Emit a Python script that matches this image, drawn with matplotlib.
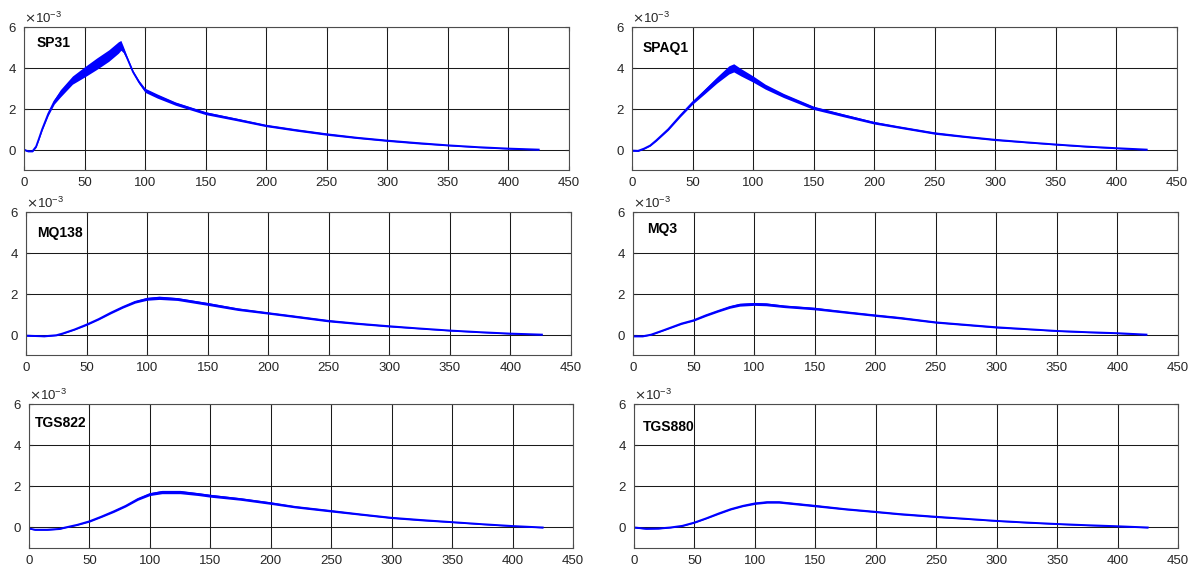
import numpy as np
import matplotlib
matplotlib.use('Agg')
import matplotlib.pyplot as plt
from matplotlib.ticker import ScalarFormatter

# sensor responses, values in units of 1e-3
names = ['SP31', 'SPAQ1', 'MQ138', 'MQ3', 'TGS822', 'TGS880']

sp31_x = [0, 3, 7, 10, 12, 15, 20, 25, 30, 40, 50, 60, 70, 78, 80, 82, 85, 90, 95, 100, 110, 125, 150, 175, 200, 225, 250, 275, 300, 325, 350, 375, 400, 425]
sp31_y = [0.0, -0.08, -0.08, 0.15, 0.48, 1.0, 1.75, 2.35, 2.75, 3.4, 3.8, 4.2, 4.6, 5.0, 5.1, 4.9, 4.5, 3.8, 3.3, 2.9, 2.62, 2.25, 1.78, 1.48, 1.17, 0.95, 0.75, 0.58, 0.44, 0.32, 0.21, 0.12, 0.05, 0.0]
sp31_s = [0.03, 0.03, 0.03, 0.04, 0.05, 0.06, 0.08, 0.12, 0.18, 0.2, 0.25, 0.28, 0.28, 0.28, 0.24, 0.15, 0.08, 0.07, 0.08, 0.1, 0.1, 0.08, 0.07, 0.06, 0.05, 0.05, 0.05, 0.04, 0.04, 0.04, 0.03, 0.03, 0.03, 0.03]

spaq1_x = [0, 5, 10, 15, 20, 30, 40, 50, 60, 70, 80, 84, 90, 100, 110, 125, 150, 175, 200, 220, 250, 275, 300, 325, 350, 375, 400, 425]
spaq1_y = [-0.05, -0.06, 0.05, 0.2, 0.45, 1.0, 1.67, 2.3, 2.85, 3.4, 3.9, 4.0, 3.78, 3.45, 3.08, 2.65, 2.04, 1.67, 1.31, 1.1, 0.8, 0.63, 0.48, 0.36, 0.25, 0.15, 0.07, 0.0]
spaq1_s = [0.03, 0.03, 0.03, 0.03, 0.04, 0.05, 0.06, 0.08, 0.12, 0.15, 0.2, 0.2, 0.18, 0.15, 0.12, 0.1, 0.08, 0.07, 0.06, 0.05, 0.05, 0.04, 0.04, 0.03, 0.03, 0.03, 0.03, 0.03]

mq138_x = [0, 15, 25, 30, 40, 50, 60, 70, 80, 90, 100, 110, 125, 150, 175, 200, 220, 250, 275, 300, 325, 350, 375, 400, 426]
mq138_y = [-0.05, -0.08, -0.03, 0.05, 0.25, 0.49, 0.76, 1.07, 1.35, 1.6, 1.75, 1.8, 1.74, 1.5, 1.24, 1.05, 0.9, 0.67, 0.53, 0.41, 0.3, 0.2, 0.12, 0.05, 0.0]
mq138_s = [0.03, 0.03, 0.03, 0.03, 0.03, 0.04, 0.04, 0.05, 0.05, 0.06, 0.07, 0.08, 0.07, 0.07, 0.06, 0.05, 0.05, 0.05, 0.04, 0.04, 0.03, 0.03, 0.03, 0.03, 0.03]

mq3_x = [0, 8, 15, 25, 40, 50, 60, 70, 80, 88, 100, 110, 125, 150, 175, 200, 220, 250, 275, 300, 325, 350, 375, 400, 424]
mq3_y = [-0.08, -0.08, 0.0, 0.21, 0.54, 0.7, 0.94, 1.15, 1.35, 1.46, 1.5, 1.48, 1.38, 1.27, 1.1, 0.94, 0.82, 0.6, 0.48, 0.36, 0.27, 0.18, 0.12, 0.07, 0.0]
mq3_s = [0.03, 0.03, 0.03, 0.03, 0.04, 0.04, 0.05, 0.05, 0.06, 0.07, 0.07, 0.07, 0.06, 0.06, 0.05, 0.05, 0.05, 0.04, 0.04, 0.04, 0.03, 0.03, 0.03, 0.03, 0.03]

tgs822_x = [0, 5, 15, 25, 30, 40, 50, 60, 70, 80, 90, 100, 110, 125, 140, 150, 175, 200, 220, 250, 275, 300, 325, 350, 375, 400, 425]
tgs822_y = [-0.05, -0.11, -0.11, -0.07, 0.0, 0.13, 0.3, 0.53, 0.78, 1.05, 1.38, 1.62, 1.72, 1.72, 1.62, 1.54, 1.38, 1.18, 1.0, 0.8, 0.63, 0.47, 0.36, 0.26, 0.16, 0.07, 0.0]
tgs822_s = [0.03, 0.03, 0.03, 0.03, 0.03, 0.03, 0.04, 0.04, 0.05, 0.05, 0.06, 0.07, 0.08, 0.08, 0.07, 0.07, 0.06, 0.06, 0.05, 0.05, 0.04, 0.04, 0.04, 0.03, 0.03, 0.03, 0.03]

tgs880_x = [0, 10, 20, 30, 40, 50, 60, 70, 80, 90, 100, 110, 120, 130, 150, 175, 200, 220, 250, 275, 300, 325, 350, 375, 400, 425]
tgs880_y = [0.0, -0.06, -0.05, 0.0, 0.08, 0.24, 0.45, 0.68, 0.89, 1.05, 1.17, 1.23, 1.23, 1.17, 1.05, 0.89, 0.76, 0.65, 0.52, 0.42, 0.32, 0.24, 0.17, 0.11, 0.06, 0.0]
tgs880_s = [0.03, 0.03, 0.03, 0.03, 0.03, 0.03, 0.03, 0.04, 0.04, 0.04, 0.05, 0.05, 0.05, 0.05, 0.05, 0.04, 0.04, 0.04, 0.04, 0.03, 0.03, 0.03, 0.03, 0.03, 0.03, 0.03]

data = [(sp31_x, sp31_y, sp31_s), (spaq1_x, spaq1_y, spaq1_s),
        (mq138_x, mq138_y, mq138_s), (mq3_x, mq3_y, mq3_s),
        (tgs822_x, tgs822_y, tgs822_s), (tgs880_x, tgs880_y, tgs880_s)]

xticks = [0, 50, 100, 150, 200, 250, 300, 350, 400, 450]
yticks = [0, 2e-3, 4e-3, 6e-3]

# axes boxes in pixels (left, top, right, bottom)
W, H = 1195, 570
boxes = [(24, 27, 569, 170), (632, 27, 1177, 170),
         (26, 212, 571, 355), (633, 212, 1178, 355),
         (29, 404, 573, 548), (634, 404, 1178, 548)]
label_pos = [(10.5, 5.2), (9, 4.97), (9, 4.98), (12, 5.17), (5, 5.1), (7.5, 4.9)]

matplotlib.rc('font', family=['Liberation Sans', 'DejaVu Sans'], size=9.5)
fig = plt.figure(figsize=(W / 100.0, H / 100.0), dpi=100)
txtcol = '#262626'

for i in range(6):
    l, t, r, b = boxes[i]
    ax = fig.add_axes([l / W, 1 - b / H, (r - l) / W, (b - t) / H])
    x = np.array(data[i][0])
    y = np.array(data[i][1]) * 1e-3
    s = np.array(data[i][2]) * 1e-3
    ax.fill_between(x, y - s, y + s, color='#0000ff', lw=0)
    ax.plot(x, y, color='#0000ff', lw=1.3)
    ax.set_xlim(0, 450)
    ax.set_ylim(-1e-3, 6e-3)
    ax.set_xticks(xticks)
    ax.set_yticks(yticks)
    fmt = ScalarFormatter(useMathText=True)
    fmt.set_powerlimits((-3, -3))
    ax.yaxis.set_major_formatter(fmt)
    ax.yaxis.get_offset_text().set_color(txtcol)
    ax.yaxis.get_offset_text().set_fontsize(9.5)
    ax.grid(True, color='#1a1a1a', lw=0.75)
    ax.set_axisbelow(True)
    ax.tick_params(direction='in', length=3, colors=txtcol, top=True, right=True,
                   labeltop=False, labelright=False, pad=5)
    for sp in ax.spines.values():
        sp.set_color('#4d4d4d')
        sp.set_linewidth(0.8)
    ax.text(label_pos[i][0], label_pos[i][1] * 1e-3, names[i], fontweight='bold',
            fontsize=10, va='center', ha='left', color='black')

plt.savefig('out.png', dpi=100)
